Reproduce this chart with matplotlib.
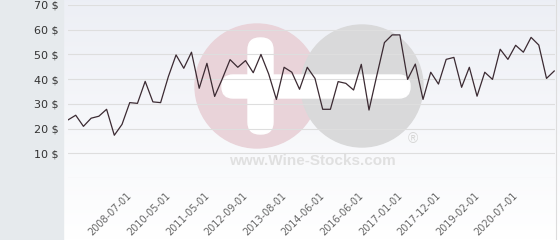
import numpy as np
import matplotlib.pyplot as plt
from matplotlib.patches import Rectangle, Circle, FancyBboxPatch
from matplotlib.transforms import ScaledTranslation

# prix moyen par vente (USD), un point par enchère
prices = [23.5, 25.4, 20.9, 24.2, 25.0, 27.8, 17.3, 21.7, 30.5, 30.2,
          39.1, 30.8, 30.5, 41.0, 49.8, 44.4, 50.9, 36.3, 46.4, 33.0,
          40.2, 47.9, 44.8, 47.5, 42.6, 50.0, 42.1, 31.8, 44.8, 42.8,
          35.9, 44.8, 40.3, 27.8, 27.8, 39.0, 38.3, 35.6, 46.0, 27.5,
          41.3, 54.8, 57.9, 57.9, 39.9, 46.1, 31.8, 42.8, 38.0, 48.0,
          48.8, 36.7, 44.8, 33.1, 42.8, 39.9, 52.1, 48.0, 53.7, 50.9,
          56.9, 53.8, 40.3, 43.3]
tick_idx = [8, 13, 18, 23, 28, 33, 38, 43, 48, 53, 58]
tick_labels = ['2008-07-01', '2010-05-01', '2011-05-01', '2012-09-01',
               '2013-08-01', '2014-06-01', '2016-06-01', '2017-01-01',
               '2017-12-01', '2019-02-01', '2020-07-01']
y_ticks = [0, 10, 20, 30, 40, 50, 60, 70]

W, H = 560, 240
fig = plt.figure(figsize=(W / 100, H / 100), dpi=100)

# fond + filigrane, en pixels
bg = fig.add_axes([0, 0, 1, 1], zorder=0)
bg.set_xlim(0, W)
bg.set_ylim(H, 0)
bg.axis('off')
grad = np.linspace(0, 1, 200)[:, None]
top = np.array([0.929, 0.937, 0.961])
bot = np.array([1.0, 1.0, 1.0])
img = top + (bot - top) * grad[..., None]
img = np.repeat(img, 2, axis=1)
bg.imshow(img, extent=(63, W, H, 0), aspect='auto', zorder=0)
bg.add_patch(Rectangle((0, 0), 63, H, color='#e6eaed', zorder=1))
bg.plot([555.5, 555.5], [0, H], color='#dddddd', lw=0.8, zorder=1)

bg.add_patch(Circle((257, 86), 62, color='#e9d3d9', zorder=2))
bg.add_patch(Circle((362, 86), 61, color='#d9d9da', zorder=3))
bg.add_patch(FancyBboxPatch((248, 38), 25, 96, boxstyle='round,pad=0,rounding_size=12',
                            color='white', zorder=4))
bg.add_patch(FancyBboxPatch((222, 75), 188, 23, boxstyle='round,pad=0,rounding_size=11',
                            color='white', zorder=4))
bg.text(312, 161, 'www.Wine-Stocks.com', ha='center', va='center', fontsize=11,
        fontweight='bold', family='Liberation Sans', color='#e0e0e0', zorder=5)
bg.text(413, 139, '®', ha='center', va='center', fontsize=10,
        family='Liberation Sans', color='#d6d6d6', zorder=5)

# graphique
ax = fig.add_axes([68 / W, (H - 178) / H, 487 / W, 173 / H], zorder=1)
ax.patch.set_alpha(0)
x = np.arange(len(prices))
ax.plot(x, prices, color='#3b2a32', lw=0.9, zorder=3)
ax.set_xlim(0, 63.1)
ax.set_ylim(0, 70)
ax.set_yticks(y_ticks)
ax.set_yticklabels(['' if v == 0 else f'{v} $' for v in y_ticks])
ax.set_xticks(tick_idx)
ax.set_xticklabels(tick_labels, rotation=45, ha='right', va='top',
                   rotation_mode='anchor')
ax.tick_params(axis='y', length=0, pad=6.5, labelsize=8, labelcolor='#333333')
ax.tick_params(axis='x', length=0, pad=9, labelsize=7, labelcolor='#666666')
shift = ScaledTranslation(-3 / 100, 0, fig.dpi_scale_trans)
for lab in ax.get_xticklabels():
    lab.set_transform(lab.get_transform() + shift)
ax.grid(axis='y', color='#dedede', lw=0.8)
ax.set_axisbelow(True)
for s in ax.spines.values():
    s.set_visible(False)

fig.savefig('out.png', dpi=100)
